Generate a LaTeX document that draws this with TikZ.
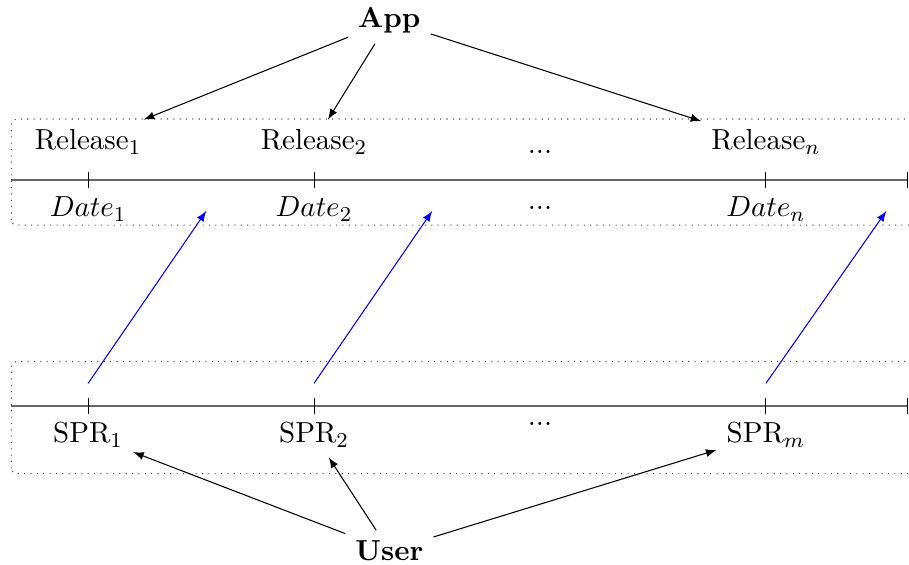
\documentclass[tikz,border=0pt,11pt]{standalone}
\usepackage{amsmath}
\usepackage{tikz}
\usetikzlibrary{positioning}

\begin{document}
\begin{tikzpicture}[
    timeline/.style = {draw=black!60, thick},
    tickmark/.style = {draw=black, thin},
    lane/.style = {draw=black!70, dotted, rounded corners=2pt},
    feeds/.style = {-latex, thin},
    reports/.style = {-latex, blue},
  ]

    %Page
    \clip (-1.17,-2.10) rectangle (10.90,5.39);

    %Ticks
    \coordinate (TickR1) at (0,3);
    \coordinate [right = 3.00 cm of TickR1] (TickR2);
    \coordinate [right = 9.00 cm of TickR1] (TickRn);
    \coordinate [below = 3.00 cm of TickR1] (TickS1);
    \coordinate [right = 3.00 cm of TickS1] (TickS2);
    \coordinate [right = 9.00 cm of TickS1] (TickSm);

    \coordinate [left = 1.02 cm of TickR1] (LineRStart);
    \coordinate [right = 10.88 cm of TickR1] (LineREnd);
    \coordinate [left = 1.02 cm of TickS1] (LineSStart);
    \coordinate [right = 10.88 cm of TickS1] (LineSEnd);

    %Lanes
    \draw[lane] (-1.02,2.40) rectangle (11.50,3.81);
    \draw[lane] (-1.02,-0.90) rectangle (11.50,0.59);

    \draw[timeline] (LineRStart) -- (LineREnd);
    \draw[timeline] (LineSStart) -- (LineSEnd);
    \foreach \t in {TickR1,TickR2,TickRn,LineREnd,TickS1,TickS2,TickSm,LineSEnd}
        \draw[tickmark] ([yshift=3pt]\t) -- ([yshift=-3pt]\t);

    %-------------------------------------------
    %Labels

    \node[above = 0.40 cm of TickR1, anchor=base] (Release1) {Release\(_1\)};
    \node[above = 0.40 cm of TickR2, anchor=base] (Release2) {Release\(_2\)};
    \node[above = 0.40 cm of TickRn, anchor=base] (Releasen) {Release\(_n\)};
    \node[above right = 0.35 cm and 3.00 cm of TickR2, anchor=base] (DotsRelease) {...};

    \node[below = 0.49 cm of TickR1, anchor=base] (Date1) {\(Date_1\)};
    \node[below = 0.49 cm of TickR2, anchor=base] (Date2) {\(Date_2\)};
    \node[below = 0.49 cm of TickRn, anchor=base] (Daten) {\(Date_n\)};
    \node[below right = 0.39 cm and 3.00 cm of TickR2, anchor=base] (DotsDate) {...};

    \node[below = 0.49 cm of TickS1, anchor=base] (SPR1) {SPR\(_1\)};
    \node[below = 0.49 cm of TickS2, anchor=base] (SPR2) {SPR\(_2\)};
    \node[below = 0.49 cm of TickSm, anchor=base] (SPRm) {SPR\(_m\)};
    \node[below right = 0.26 cm and 3.00 cm of TickS2, anchor=base] (DotsSPR) {...};

    \node[above right = 2.02 cm and 1.00 cm of TickR2, anchor=base] (App) {\textbf{App}};
    \node[below right = 2.05 cm and 1.00 cm of TickS2, anchor=base] (User) {\textbf{User}};

    %Arrows
    \draw[feeds] (App) -- (Release1);
    \draw[feeds] (App) -- (Release2);
    \draw[feeds] (App) -- (Releasen);

    \draw[feeds] (User) -- (SPR1);
    \draw[feeds] (User) -- (SPR2);
    \draw[feeds] (User) -- (SPRm);

    \coordinate[above = 0.30 cm of TickS1] (Filed1);
    \coordinate[above = 0.30 cm of TickS2] (Filed2);
    \coordinate[above = 0.30 cm of TickSm] (Filedm);
    \coordinate[above right = -0.41 cm and 1.57 cm of TickR1] (Fixed1);
    \coordinate[above right = -0.41 cm and 1.57 cm of TickR2] (Fixed2);
    \coordinate[above right = -0.41 cm and 1.60 cm of TickRn] (Fixedn);

    \draw[reports] (Filed1) -- (Fixed1);
    \draw[reports] (Filed2) -- (Fixed2);
    \draw[reports] (Filedm) -- (Fixedn);

\end{tikzpicture}
\end{document}
